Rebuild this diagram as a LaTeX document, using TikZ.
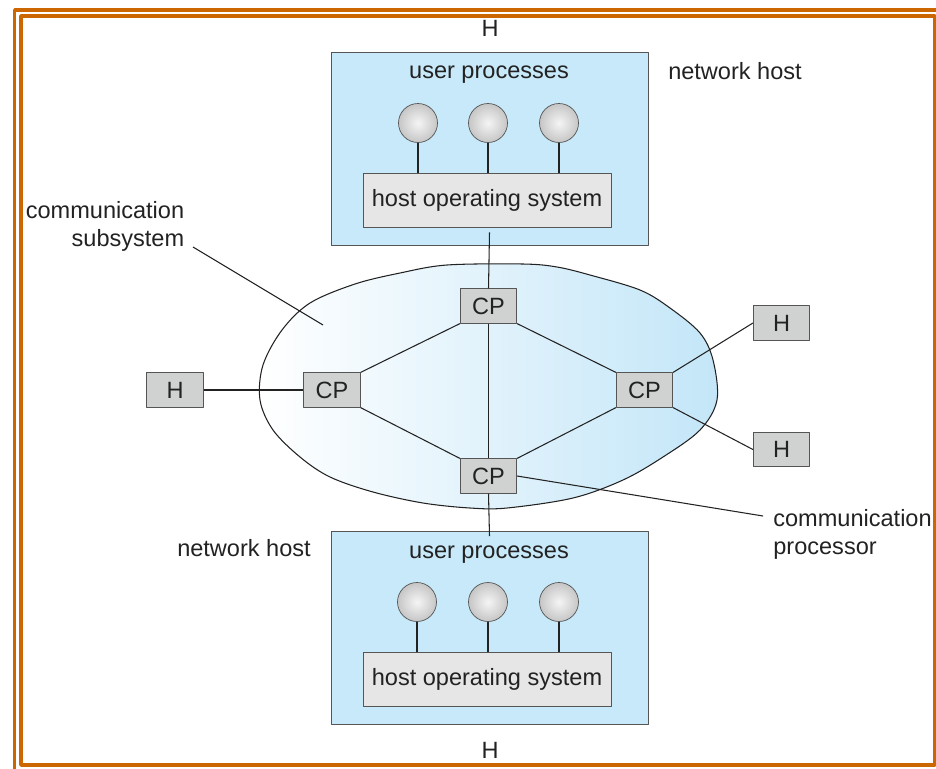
\documentclass[tikz,border=0pt]{standalone}
\usepackage{fontspec}
\setmainfont{Liberation Sans}
\usetikzlibrary{positioning,calc}

\definecolor{frameorange}{HTML}{CC6600}
\definecolor{hostblue}{HTML}{C8E9F9}
\definecolor{cloudblue}{HTML}{C3E6F8}
\definecolor{boxgray}{HTML}{D0D2D2}
\definecolor{osgray}{HTML}{E6E6E6}
\definecolor{edgegray}{HTML}{555555}
\definecolor{inkgray}{HTML}{222222}

\begin{document}
\begin{tikzpicture}[x=0.02cm,y=-0.02cm,line join=bevel,
  font=\fontsize{13.4}{16}\selectfont,text=inkgray,
  host/.style={draw=edgegray,fill=hostblue,minimum width=6.34cm,minimum height=3.86cm,inner sep=0pt},
  hostos/.style={draw=edgegray,fill=osgray,minimum width=4.96cm,minimum height=1.08cm,inner sep=0pt},
  proc/.style={circle,draw=edgegray,inner color=gray!8,outer color=gray!45,minimum size=0.78cm,inner sep=0pt},
  cpbox/.style={draw=edgegray,fill=boxgray,minimum width=1.13cm,minimum height=0.69cm,inner sep=0pt},
  link/.style={draw=inkgray,line width=0.6pt},
  tag/.style={inner sep=0pt},]
%%
  \useasboundingbox (0,0) rectangle (936,768);
  \draw [frameorange,line width=2.2pt] (14.5,10) rectangle (980,800);
  \draw [frameorange,line width=2.2pt] (21,16) rectangle (935,765);

  % communication subsystem
  \path [draw=inkgray,line width=0.6pt,left color=white,right color=cloudblue]
    plot [smooth cycle,tension=0.55] coordinates {
      (447,265) (523,264) (557,267) (590,275) (640,290) (670,308) (700,333)
      (713,360) (717,400) (700,430) (663,457) (623,480) (573,498) (507,508)
      (470,508) (423,503) (373,492) (330,477) (300,457) (273,430) (260,400)
      (263,365) (282,330) (310,303) (355,284) (400,273)};

  % upper host
  \node (host_top) at (489.5,148.5) [host] {};
  \node (up_top) at (489,75) [tag] {user processes};
  \node (proc_top_1) at (418,123) [proc] {};
  \node (proc_top_2) at (488,123) [proc] {};
  \node (proc_top_3) at (559,123) [proc] {};
  \node (os_top) at (487,200) [hostos] {host operating system};

  % lower host
  \node (host_bot) at (489.5,628) [host] {};
  \node (up_bot) at (489,555) [tag] {user processes};
  \node (proc_bot_1) at (417,602) [proc] {};
  \node (proc_bot_2) at (488,602) [proc] {};
  \node (proc_bot_3) at (559,602) [proc] {};
  \node (os_bot) at (487,679) [hostos] {host operating system};

  \draw [link] (proc_top_1) -- (proc_top_1 |- os_top.north);
  \draw [link] (proc_top_2) -- (proc_top_2 |- os_top.north);
  \draw [link] (proc_top_3) -- (proc_top_3 |- os_top.north);
  \draw [link] (proc_bot_1) -- (proc_bot_1 |- os_bot.north);
  \draw [link] (proc_bot_2) -- (proc_bot_2 |- os_bot.north);
  \draw [link] (proc_bot_3) -- (proc_bot_3 |- os_bot.north);

  % processors and hosts
  \node (cp_top) at (488.5,306) [cpbox] {CP};
  \node (cp_left) at (332,390) [cpbox] {CP};
  \node (cp_right) at (644.5,390) [cpbox] {CP};
  \node (cp_bot) at (488.5,476) [cpbox] {CP};
  \node (h_left) at (175,390) [cpbox] {H};
  \node (h_right_1) at (781.5,323) [cpbox] {H};
  \node (h_right_2) at (781.5,449.5) [cpbox] {H};

  \draw [link] (cp_top.north) -- ($(host_top.south)+(0,-13)$);
  \draw [link] (cp_top) -- (cp_bot);
  \draw [link] (cp_bot.south) -- ($(host_bot.north)+(0,5)$);
  \draw [link] (cp_left.north east) -- (cp_top.south west);
  \draw [link] (cp_left.south east) -- (cp_bot.north west);
  \draw [link] (cp_top.south east) -- (cp_right.north west);
  \draw [link] (cp_right.south west) -- (cp_bot.north east);
  \draw [link] (h_left) -- (cp_left);
  \draw [link] (cp_right.north east) -- (h_right_1.west);
  \draw [link] (cp_right.south east) -- (h_right_2.west);

  % labels
  \node (h_top) at (490,28) [tag] {H};
  \node (h_bottom) at (490,750) [tag] {H};
  \node (host_label_top) at (735,71) [tag] {network host};
  \node (host_label_bot) at (244,548) [tag] {network host};
  \node (subsys_label) at (105,226) [tag,align=right] {communication\\subsystem};
  \node (proc_label) at (773,534) [tag,anchor=west,align=left] {communication\\processor};

  \coordinate (subsys_end) at (323,325);
  \coordinate (proc_end) at (763,516);
  \draw [link] (193,247) -- (subsys_end);
  \draw [link] (cp_bot.east) -- (proc_end);
%
\end{tikzpicture}
\end{document}
